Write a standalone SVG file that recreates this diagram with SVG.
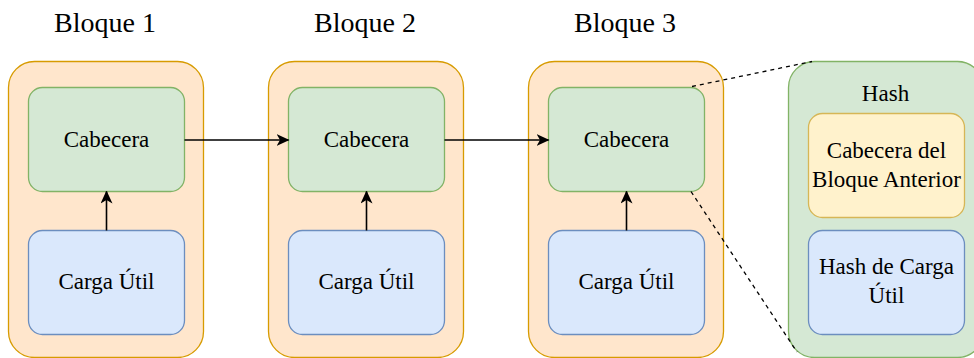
<svg xmlns="http://www.w3.org/2000/svg" width="974" height="358" viewBox="0 0 974 358">
  <defs>
    <marker id="arrow" markerWidth="13" markerHeight="12" refX="12" refY="6" orient="auto" markerUnits="userSpaceOnUse">
      <path d="M0,0 L13,6 L0,12 L3.5,6 z" fill="#000"/>
    </marker>
    <style>
      text { font-family: "Liberation Serif", "Times New Roman", serif; fill: #000; text-anchor: middle; }
      .title { font-size: 28px; }
      .label { font-size: 23px; }
      .block { fill: #ffe6cc; stroke: #d79b00; stroke-width: 1.3; }
      .head { fill: #d5e8d4; stroke: #82b366; stroke-width: 1.3; }
      .body { fill: #dae8fc; stroke: #6c8ebf; stroke-width: 1.3; }
      .prev { fill: #fff2cc; stroke: #d6b656; stroke-width: 1.3; }
      .link { fill: none; stroke: #000; stroke-width: 1.6; }
      .zoom { fill: none; stroke: #000; stroke-width: 1.3; stroke-dasharray: 4 4; }
    </style>
  </defs>

  <rect width="974" height="358" fill="#fff"/>

  <!-- block titles -->
  <g id="titles">
    <text class="title" x="105" y="31.5">Bloque 1</text>
    <text class="title" x="365" y="31.5">Bloque 2</text>
    <text class="title" x="625" y="31.5">Bloque 3</text>
  </g>

  <!-- block 1 -->
  <g id="bloque1">
    <rect class="block" x="8.5" y="61.5" width="195" height="296" rx="26"/>
    <g id="cabecera1">
      <rect class="head" x="28.5" y="87.5" width="156" height="104" rx="14"/>
      <text class="label" x="106.5" y="147">Cabecera</text>
    </g>
    <g id="carga1">
      <rect class="body" x="28.5" y="230.5" width="156" height="104" rx="14"/>
      <text class="label" x="106.5" y="289">Carga Útil</text>
    </g>
  </g>

  <!-- block 2 -->
  <g id="bloque2">
    <rect class="block" x="268.5" y="61.5" width="195" height="296" rx="26"/>
    <g id="cabecera2">
      <rect class="head" x="288.5" y="87.5" width="156" height="104" rx="14"/>
      <text class="label" x="366.5" y="147">Cabecera</text>
    </g>
    <g id="carga2">
      <rect class="body" x="288.5" y="230.5" width="156" height="104" rx="14"/>
      <text class="label" x="366.5" y="289">Carga Útil</text>
    </g>
  </g>

  <!-- block 3 -->
  <g id="bloque3">
    <rect class="block" x="528.5" y="61.5" width="195" height="296" rx="26"/>
    <g id="cabecera3">
      <rect class="head" x="548.5" y="87.5" width="156" height="104" rx="14"/>
      <text class="label" x="626.5" y="147">Cabecera</text>
    </g>
    <g id="carga3">
      <rect class="body" x="548.5" y="230.5" width="156" height="104" rx="14"/>
      <text class="label" x="626.5" y="289">Carga Útil</text>
    </g>
  </g>

  <!-- detail of the header hash -->
  <g id="hash">
    <rect class="head" x="788.5" y="61.5" width="195" height="296" rx="26"/>
    <text class="label" x="885.5" y="101">Hash</text>
    <g id="cabecera-anterior">
      <rect class="prev" x="808.5" y="113.5" width="156" height="104" rx="14"/>
      <text class="label" x="886.5" y="157.5">Cabecera del</text>
      <text class="label" x="886.5" y="187">Bloque Anterior</text>
    </g>
    <g id="hash-carga">
      <rect class="body" x="808.5" y="230.5" width="156" height="104" rx="14"/>
      <text class="label" x="886.5" y="274">Hash de Carga</text>
      <text class="label" x="886.5" y="302.5">Útil</text>
    </g>
  </g>

  <!-- connectors -->
  <g id="connectors">
    <path class="link" d="M184.5,140 H288.5" marker-end="url(#arrow)"/>
    <path class="link" d="M444.5,140 H548.5" marker-end="url(#arrow)"/>
    <path class="link" d="M106.5,230.5 V191.5" marker-end="url(#arrow)"/>
    <path class="link" d="M366.5,230.5 V191.5" marker-end="url(#arrow)"/>
    <path class="link" d="M626.5,230.5 V191.5" marker-end="url(#arrow)"/>
    <path class="zoom" d="M692,86.5 L812,61.5"/>
    <path class="zoom" d="M691,191.5 L797,352"/>
  </g>
</svg>
